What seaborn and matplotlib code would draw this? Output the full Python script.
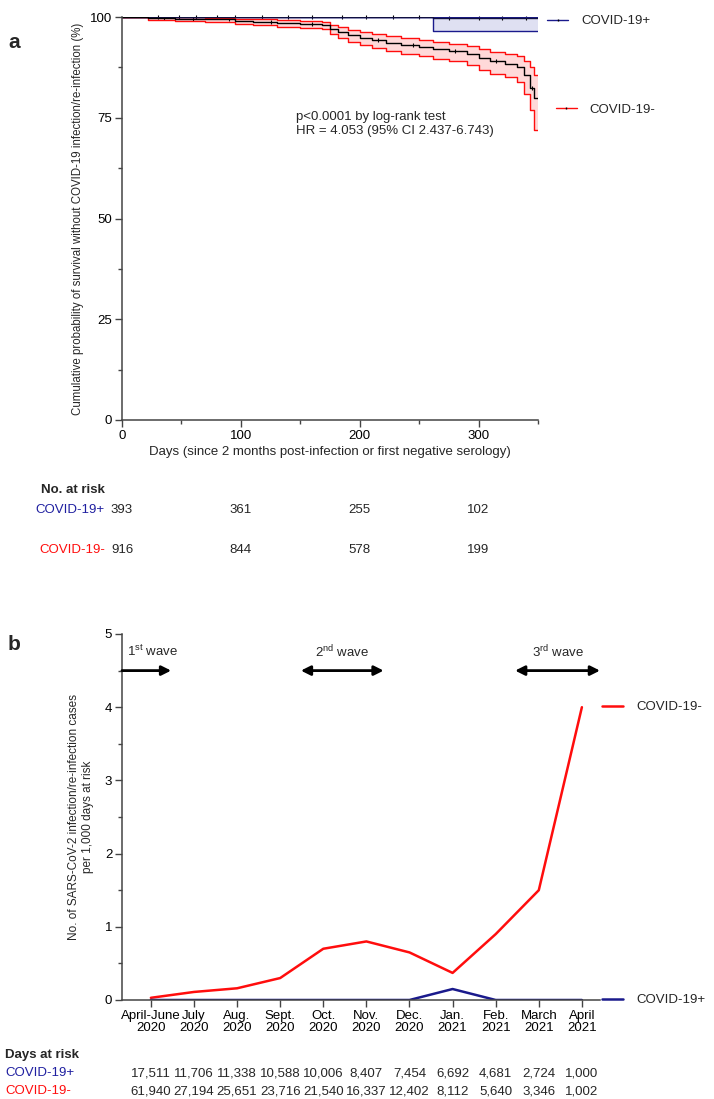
import numpy as np
import pandas as pd
import matplotlib
matplotlib.use("Agg")
import matplotlib.pyplot as plt
from matplotlib.lines import Line2D
from matplotlib.ticker import MultipleLocator
import matplotlib.transforms as mtrans
import seaborn as sns

# ---------------- data ----------------
# Panel a: Kaplan-Meier (percent) for COVID-19- group
neg_days = [0, 22, 45, 70, 95, 110, 130, 150, 168, 175, 182, 190, 200, 210, 222, 235,
            250, 262, 275, 290, 300, 310, 322, 332, 338, 343, 347, 350]
neg_surv = [100, 99.8, 99.6, 99.4, 99.1, 98.8, 98.5, 98.3, 98.0, 97.0, 96.2, 95.5, 94.8,
            94.2, 93.6, 93.0, 92.6, 92.0, 91.5, 90.8, 89.8, 89.0, 88.4, 87.6, 85.5, 82.5,
            80.0, 80.0]
neg_lower = [100, 99.3, 99.0, 98.7, 98.3, 97.9, 97.5, 97.2, 96.9, 95.7, 94.8, 93.9, 93.1,
             92.4, 91.6, 90.9, 90.4, 89.7, 89.0, 88.1, 86.9, 85.8, 85.0, 83.8, 81.0, 77.0,
             72.0, 72.0]
neg_upper = [100, 100, 99.9, 99.8, 99.6, 99.4, 99.2, 99.0, 98.8, 98.0, 97.4, 96.8, 96.2,
             95.7, 95.2, 94.7, 94.3, 93.8, 93.4, 92.8, 92.0, 91.4, 90.9, 90.4, 89.0, 87.5,
             85.5, 85.5]
# COVID-19+ group
pos_days = [0, 22, 262, 350]
pos_surv = [100, 100, 99.7, 99.7]
pos_lower = [100, 100, 96.5, 96.5]
pos_upper = [100, 100, 100, 100]
# censoring marks (approximate)
pos_censor = [30, 48, 62, 80, 95, 118, 140, 160, 185, 205, 228, 250, 275, 300, 320, 340]
neg_censor = [35, 60, 90, 125, 160, 215, 245, 280, 315, 345]

risk_days = [0, 100, 200, 300]
risk_pos = [393, 361, 255, 102]
risk_neg = [916, 844, 578, 199]

# Panel b: incidence per 1,000 days at risk
months = ["April-June\n2020", "July\n2020", "Aug.\n2020", "Sept.\n2020", "Oct.\n2020",
          "Nov.\n2020", "Dec.\n2020", "Jan.\n2021", "Feb.\n2021", "March\n2021", "April\n2021"]
inc_neg = [0.03, 0.11, 0.16, 0.30, 0.70, 0.80, 0.65, 0.37, 0.90, 1.50, 4.00]
inc_pos = [0.0, 0.0, 0.0, 0.0, 0.0, 0.0, 0.0, 0.15, 0.0, 0.0, 0.0]
days_pos = ["17,511", "11,706", "11,338", "10,588", "10,006", "8,407", "7,454", "6,692",
            "4,681", "2,724", "1,000"]
days_neg = ["61,940", "27,194", "25,651", "23,716", "21,540", "16,337", "12,402", "8,112",
            "5,640", "3,346", "1,002"]

# ---------------- style ----------------
sns.set_theme(style="ticks")
plt.rcParams["font.family"] = ["Liberation Sans", "DejaVu Sans"]
plt.rcParams["mathtext.fontset"] = "custom"
plt.rcParams["mathtext.rm"] = "Liberation Sans"
plt.rcParams["mathtext.it"] = "Liberation Sans:italic"
plt.rcParams["mathtext.bf"] = "Liberation Sans:bold"

RED = "#ff0d0d"
BLUE = "#1a1a8c"
AX = "#444444"
FS = 9.5

W, H = 714, 1099
fig = plt.figure(figsize=(W / 100, H / 100), dpi=100)

def fy(px):
    return 1 - px / H

def style_axis(ax):
    sns.despine(ax=ax)
    for s in ("left", "bottom"):
        ax.spines[s].set_color(AX)
        ax.spines[s].set_linewidth(1.1)
    ax.tick_params(which="major", direction="out", length=5, width=1.0, color=AX,
                   labelsize=FS, labelcolor="black", pad=2)
    ax.tick_params(which="minor", direction="out", length=3, width=1.0, color=AX)

def step_value(days, vals, t):
    idx = np.searchsorted(days, t, side="right") - 1
    return np.asarray(vals)[idx]

# ---------------- panel a ----------------
A_TOP, A_BOT = 17, 420
axa = fig.add_axes([122 / W, fy(A_BOT), 416 / W, (A_BOT - A_TOP) / H])
dfn = pd.DataFrame({"day": neg_days, "surv": neg_surv, "lo": neg_lower, "hi": neg_upper})
dfp = pd.DataFrame({"day": pos_days, "surv": pos_surv, "lo": pos_lower, "hi": pos_upper})

axa.fill_between(dfn["day"], dfn["lo"], dfn["hi"], step="post", color="#ffd9d9", lw=0)
axa.fill_between(dfp["day"], dfp["lo"], dfp["hi"], step="post", color="#dfe0f2", lw=0)
for col in ("lo", "hi"):
    sns.lineplot(data=dfp, x="day", y=col, ax=axa, color=BLUE, lw=1.0,
                 drawstyle="steps-post", estimator=None)
    sns.lineplot(data=dfn, x="day", y=col, ax=axa, color=RED, lw=1.0,
                 drawstyle="steps-post", estimator=None)
sns.lineplot(data=dfp, x="day", y="surv", ax=axa, color="#101040", lw=1.0,
             drawstyle="steps-post", estimator=None)
sns.lineplot(data=dfn, x="day", y="surv", ax=axa, color="black", lw=1.0,
             drawstyle="steps-post", estimator=None)
# censor ticks
cp = pd.DataFrame({"day": pos_censor, "s": step_value(pos_days, pos_surv, pos_censor)})
cn = pd.DataFrame({"day": neg_censor, "s": step_value(neg_days, neg_surv, neg_censor)})
sns.scatterplot(data=cp, x="day", y="s", ax=axa, marker="|", s=12, color="black",
                linewidth=0.8, clip_on=False)
sns.scatterplot(data=cn, x="day", y="s", ax=axa, marker="|", s=12, color="black",
                linewidth=0.8)

axa.set_xlim(0, 350)
axa.set_ylim(0, 100)
axa.set_xticks([0, 100, 200, 300])
axa.xaxis.set_minor_locator(MultipleLocator(50))
axa.set_yticks([0, 25, 50, 75, 100])
axa.yaxis.set_minor_locator(MultipleLocator(12.5))
style_axis(axa)
axa.set_xlabel("Days (since 2 months post-infection or first negative serology)",
               fontsize=FS, labelpad=3)
axa.set_ylabel("Cumulative probability of survival without COVID-19 infection/re-infection (%)",
               fontsize=8.3, labelpad=4)
axa.text(146, 76.6, "p<0.0001 by log-rank test\nHR = 4.053 (95% CI 2.437-6.743)",
         fontsize=FS, va="top", ha="left", linespacing=1.15)

h_pos = Line2D([], [], color=BLUE, lw=1.0, marker="|", markersize=2, mec="black")
h_neg = Line2D([], [], color=RED, lw=1.0, marker="|", markersize=2, mec="black")
lg1 = axa.legend([h_pos], ["COVID-19+"], loc="center left", bbox_to_anchor=(1.0, 0.99),
                 frameon=False, fontsize=FS, handlelength=1.6, handletextpad=1.0,
                 borderaxespad=0.3)
axa.add_artist(lg1)
axa.legend([h_neg], ["COVID-19-"], loc="center left", bbox_to_anchor=(1.02, 0.77),
           frameon=False, fontsize=FS, handlelength=1.6, handletextpad=1.0,
           borderaxespad=0.3)

fig.text(8 / W, fy(42), "a", fontsize=15, fontweight="bold", va="center", ha="left")

# number at risk table
tr = mtrans.blended_transform_factory(axa.transData, fig.transFigure)
fig.text(105 / W, fy(490), "No. at risk", fontsize=FS, fontweight="bold", ha="right", va="center")
fig.text(105 / W, fy(510), "COVID-19+", fontsize=FS, color="#1f1fa0", ha="right", va="center")
fig.text(105 / W, fy(550), "COVID-19-", fontsize=FS, color=RED, ha="right", va="center")
for d, p, n in zip(risk_days, risk_pos, risk_neg):
    fig.text(d, fy(510), str(p), transform=tr, fontsize=FS, ha="center", va="center")
    fig.text(d, fy(550), str(n), transform=tr, fontsize=FS, ha="center", va="center")

# ---------------- panel b ----------------
B_TOP, B_BOT = 634, 1000
axb = fig.add_axes([122 / W, fy(B_BOT), 478 / W, (B_BOT - B_TOP) / H])
dfb = pd.DataFrame({"idx": np.arange(len(months)), "neg": inc_neg, "pos": inc_pos})
sns.lineplot(data=dfb, x="idx", y="neg", ax=axb, color=RED, lw=1.8, estimator=None)
sns.lineplot(data=dfb, x="idx", y="pos", ax=axb, color=BLUE, lw=1.8, estimator=None)
axb.set_xlim(-0.67, 10.42)
axb.set_ylim(0, 5)
axb.set_xticks(range(len(months)))
axb.set_xticklabels(months, linespacing=1.05)
axb.set_yticks(range(6))
axb.yaxis.set_minor_locator(MultipleLocator(0.5))
style_axis(axb)
axb.set_xlabel("")
axb.set_ylabel("No. of SARS-CoV-2 infection/re-infection cases\nper 1,000 days at risk",
               fontsize=8.5, labelpad=8)

# waves
arrow_kw = dict(color="black", lw=2.0, shrinkA=0, shrinkB=0, mutation_scale=14)
axb.annotate("", xy=(0.47, 4.5), xytext=(-0.67, 4.5),
             arrowprops=dict(arrowstyle="-|>", **arrow_kw), annotation_clip=False)
axb.annotate("", xy=(5.4, 4.5), xytext=(3.48, 4.5),
             arrowprops=dict(arrowstyle="<|-|>", **arrow_kw))
axb.annotate("", xy=(10.42, 4.5), xytext=(8.45, 4.5),
             arrowprops=dict(arrowstyle="<|-|>", **arrow_kw), annotation_clip=False)
axb.text(-0.55, 4.76, r"1$^{\mathrm{st}}$ wave", fontsize=FS, ha="left", va="center")
axb.text(4.44, 4.76, r"2$^{\mathrm{nd}}$ wave", fontsize=FS, ha="center", va="center")
axb.text(9.44, 4.76, r"3$^{\mathrm{rd}}$ wave", fontsize=FS, ha="center", va="center")

hb_neg = Line2D([], [], color=RED, lw=1.8)
hb_pos = Line2D([], [], color=BLUE, lw=1.8)
lg2 = axb.legend([hb_neg], ["COVID-19-"], loc="center left", bbox_to_anchor=(0.98, 0.8),
                 frameon=False, fontsize=FS, handlelength=1.6, handletextpad=1.0)
axb.add_artist(lg2)
axb.legend([hb_pos], ["COVID-19+"], loc="center left", bbox_to_anchor=(0.98, 0.0),
           frameon=False, fontsize=FS, handlelength=1.6, handletextpad=1.0)

fig.text(8 / W, fy(645), "b", fontsize=15, fontweight="bold", va="center", ha="left")

trb = mtrans.blended_transform_factory(axb.transData, fig.transFigure)
fig.text(5 / W, fy(1055), "Days at risk", fontsize=FS, fontweight="bold", ha="left", va="center")
fig.text(5 / W, fy(1073), "COVID-19+", fontsize=FS, color="#1f1fa0", ha="left", va="center")
fig.text(5 / W, fy(1091), "COVID-19-", fontsize=FS, color=RED, ha="left", va="center")
for i, (p, n) in enumerate(zip(days_pos, days_neg)):
    fig.text(i, fy(1073), p, transform=trb, fontsize=FS, ha="center", va="center")
    fig.text(i, fy(1091), n, transform=trb, fontsize=FS, ha="center", va="center")

fig.savefig("out.png", dpi=100)
